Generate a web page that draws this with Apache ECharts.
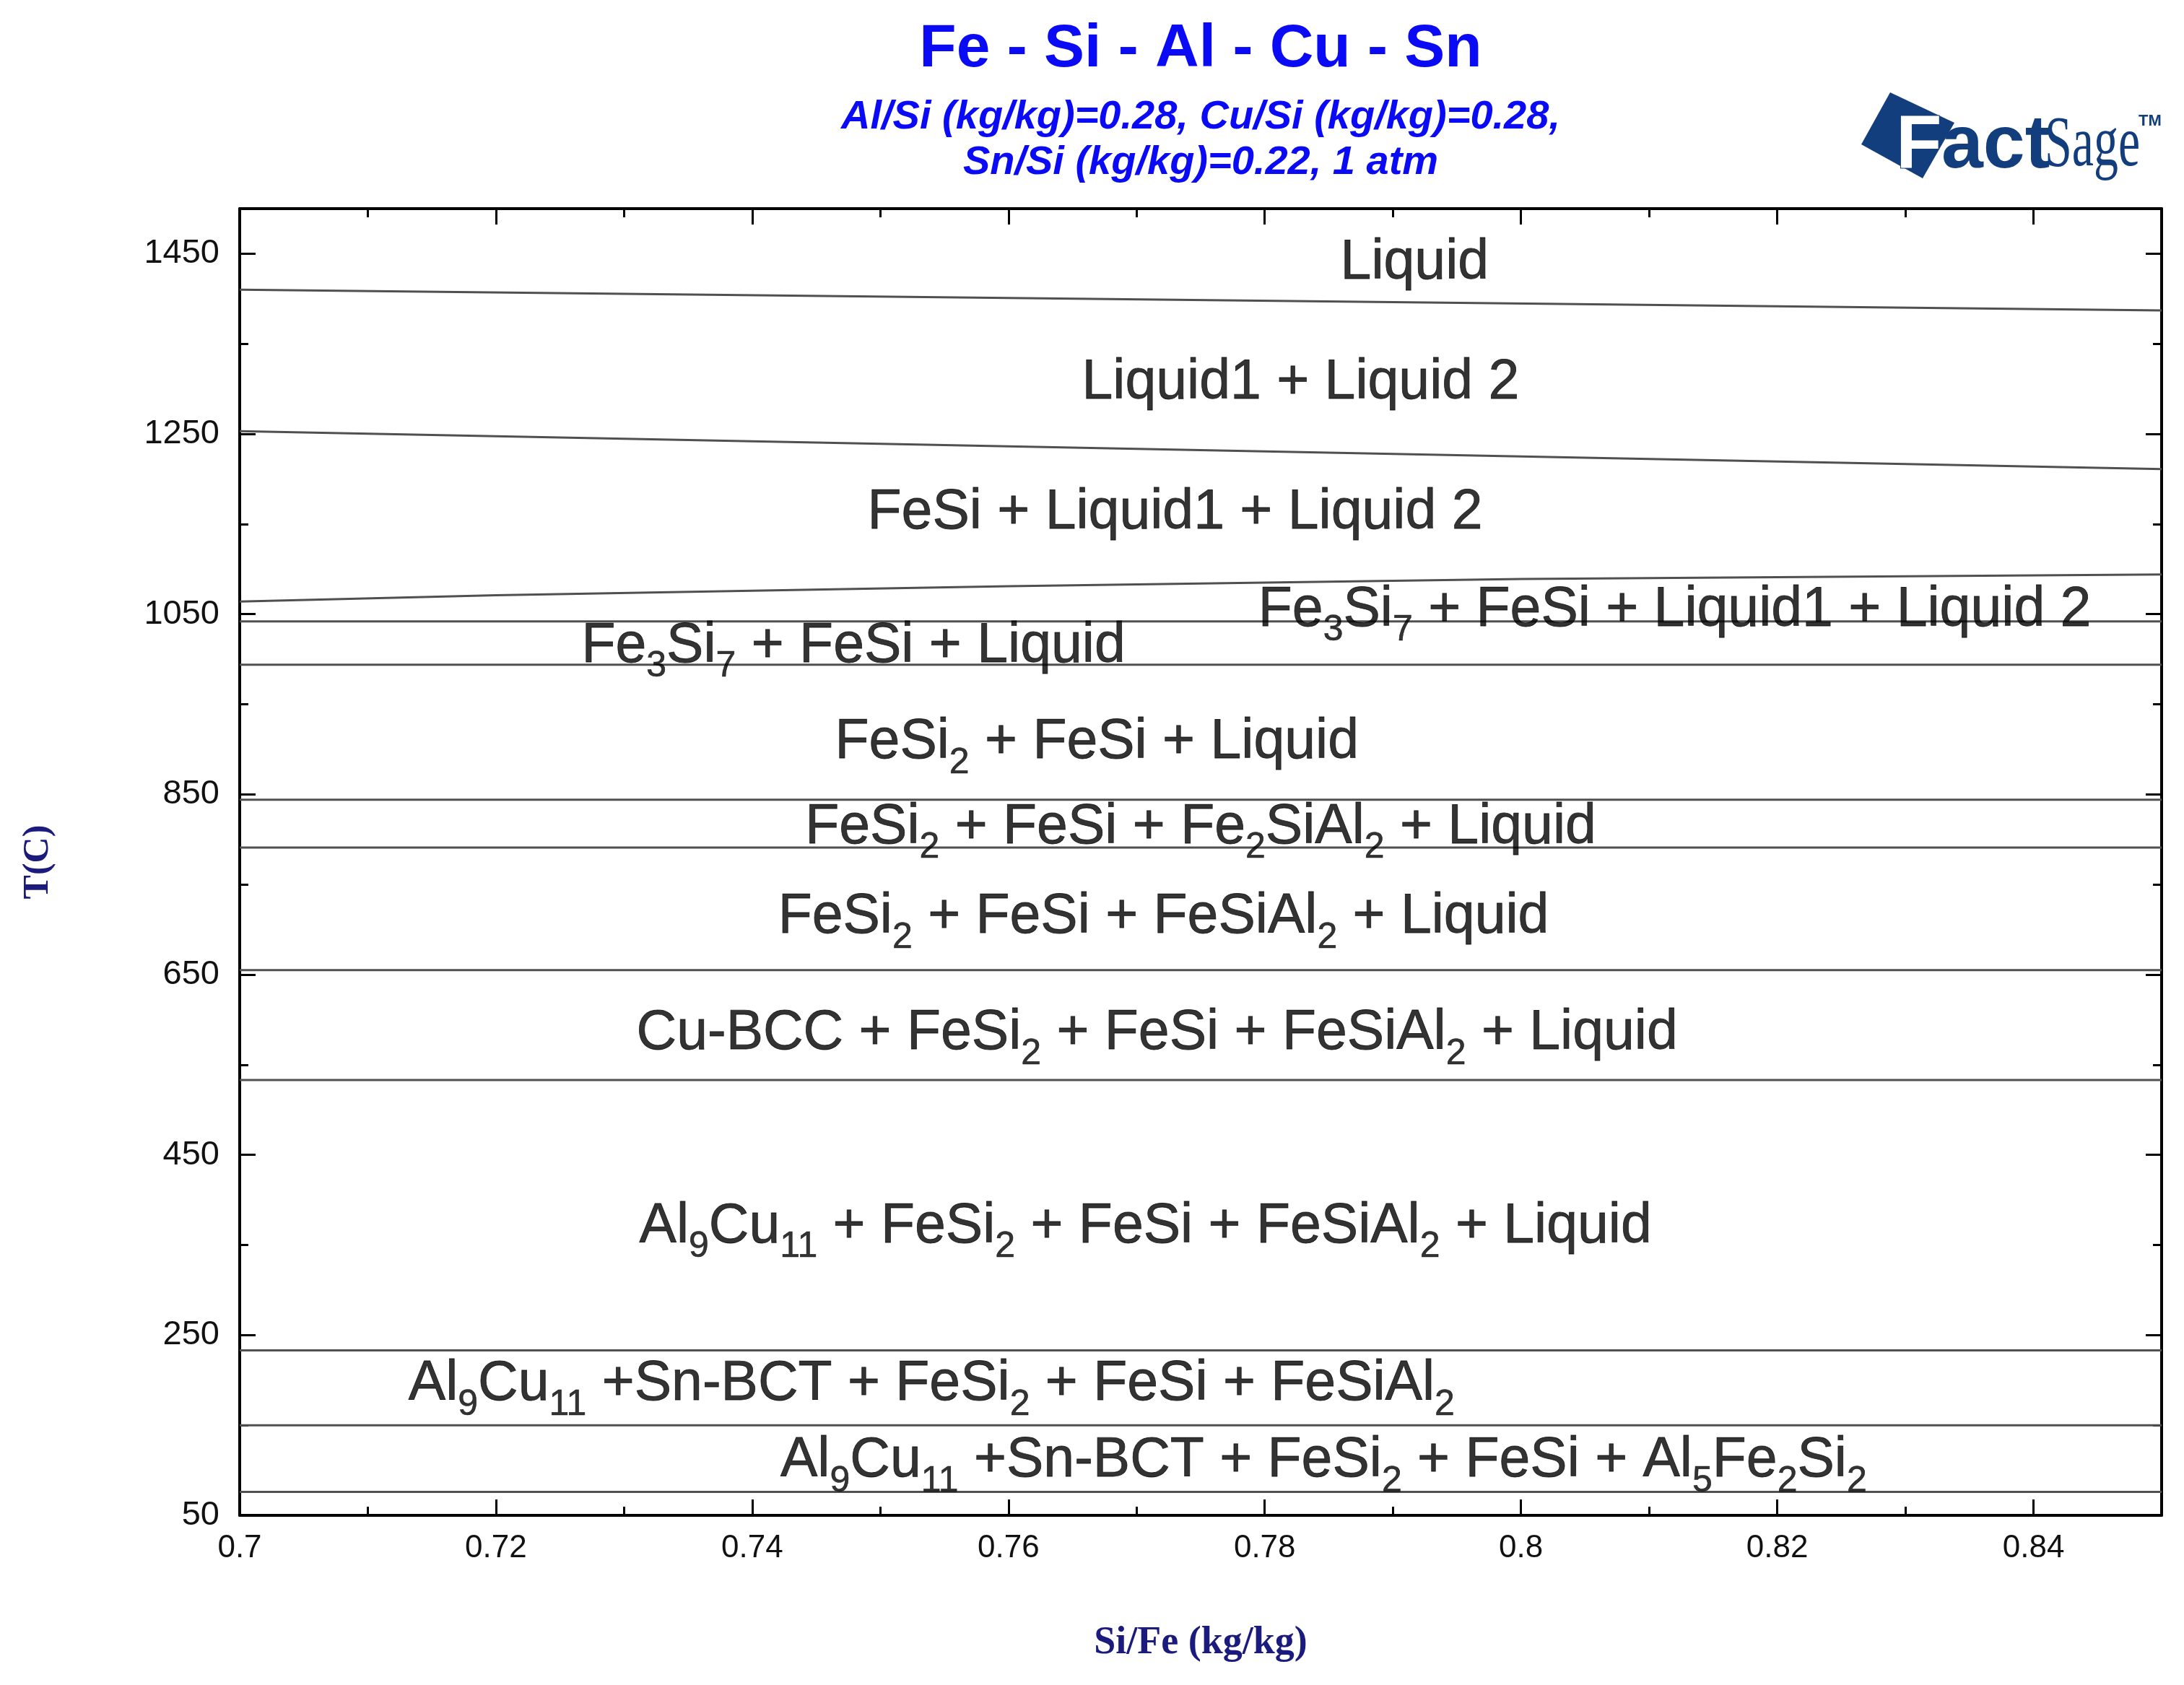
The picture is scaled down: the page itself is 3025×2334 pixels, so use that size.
<!DOCTYPE html>
<html>
<head>
<meta charset="utf-8">
<style>
  html, body { margin: 0; padding: 0; background: #fff; }
  #chart { width: 3025px; height: 2334px; }
</style>
</head>
<body>
<div id="chart"></div>
<script src="https://cdn.jsdelivr.net/npm/echarts@6.0.0/dist/echarts.min.js"></script>
<script>
// axis ranges (Si/Fe kg/kg, T in C)
var xRange = [0.7, 0.85];
var tRange = [50, 1500];

// sloped phase boundaries
var slopeX = [0.70, 0.85];
var liquidus = [1410, 1387];
var miscGap = [1253, 1211];
var fesiX = [0.70, 0.72, 0.74, 0.76, 0.78, 0.80, 0.82, 0.84, 0.85];
var fesiT = [1064, 1071, 1076, 1081, 1085, 1089, 1091, 1093, 1094];

// horizontal invariant lines
var isotherms = [1042, 994, 844, 791, 655, 533, 233, 150, 76];

// region labels, "_n" marks a subscript
var regionNames = [
  'Liquid',
  'Liquid1 + Liquid 2',
  'FeSi + Liquid1 + Liquid 2',
  'Fe_3Si_7 + FeSi + Liquid1 + Liquid 2',
  'Fe_3Si_7 + FeSi + Liquid',
  'FeSi_2 + FeSi + Liquid',
  'FeSi_2 + FeSi + Fe_2SiAl_2 + Liquid',
  'FeSi_2 + FeSi + FeSiAl_2 + Liquid',
  'Cu-BCC + FeSi_2 + FeSi + FeSiAl_2 + Liquid',
  'Al_9Cu_11 + FeSi_2 + FeSi + FeSiAl_2 + Liquid',
  'Al_9Cu_11 +Sn-BCT + FeSi_2 + FeSi + FeSiAl_2',
  'Al_9Cu_11 +Sn-BCT + FeSi_2 + FeSi + Al_5Fe_2Si_2'
];
var regionX = [0.7917, 0.7828, 0.7730, 0.8120, 0.7479, 0.7669, 0.7750, 0.7721, 0.7716, 0.7707, 0.7540, 0.7846];
var regionT = [1444, 1311, 1167, 1059, 1019, 912, 818, 718, 589, 375, 200, 115];

var lineColor = '#505050';
var logoBlue = '#123e7e';
var titleBlue = '#0a0af5';
var navy = '#1b1b7d';

// turn "Fe_3Si_7" into rich text tokens
function toRich(s) {
  var parts = s.split(/_(\d+)/);
  var out = '';
  for (var i = 0; i < parts.length; i++) {
    if (parts[i] === '') continue;
    out += (i % 2 ? '{s|' : '{t|') + parts[i] + '}';
  }
  return out;
}

var series = [];
function addLine(xs, ts) {
  series.push({
    type: 'line',
    data: xs.map(function (x, i) { return [x, ts[i]]; }),
    symbol: 'none',
    lineStyle: { color: lineColor, width: 3 },
    silent: true,
    animation: false,
    z: 3
  });
}
addLine(slopeX, liquidus);
addLine(slopeX, miscGap);
addLine(fesiX, fesiT);
isotherms.forEach(function (t) { addLine(xRange, [t, t]); });

series.push({
  type: 'scatter',
  symbolSize: 1,
  itemStyle: { color: 'rgba(0,0,0,0)' },
  silent: true,
  animation: false,
  z: 5,
  label: {
    show: true,
    position: 'inside',
    offset: [0, 6],
    rich: {
      t: { fontFamily: 'Liberation Sans', fontSize: 77, color: '#000', textBorderColor: '#000', textBorderWidth: 0.8 },
      s: { fontFamily: 'Liberation Sans', fontSize: 50, color: '#000', textBorderColor: '#000', textBorderWidth: 0.6, padding: [56, 0, 0, 0] }
    }
  },
  data: regionNames.map(function (n, i) {
    return { value: [regionX[i], regionT[i]], label: { formatter: toRich(n) } };
  })
});

function xAxisDef(pos, step, len, major) {
  return {
    type: 'value', position: pos, min: xRange[0], max: xRange[1], interval: step,
    axisLine: { show: major, onZero: false, lineStyle: { color: '#000', width: 4 } },
    axisTick: { show: true, inside: true, length: len, lineStyle: { color: '#000', width: 3 } },
    axisLabel: { show: false },
    splitLine: { show: false }
  };
}
function yAxisDef(pos, step, len, major) {
  return {
    type: 'value', position: pos, min: tRange[0], max: tRange[1], interval: step,
    axisLine: { show: major, onZero: false, lineStyle: { color: '#000', width: 4 } },
    axisTick: { show: true, inside: true, length: len, lineStyle: { color: '#000', width: 3 } },
    axisLabel: { show: false },
    splitLine: { show: false }
  };
}

var xMain = xAxisDef('bottom', 0.02, 22, true);
xMain.axisLabel = {
  show: true, showMaxLabel: false, margin: 24,
  fontFamily: '"Liberation Sans Narrow", "Arial Narrow", "Liberation Sans"',
  fontSize: 44, color: '#111'
};
xMain.name = 'Si/Fe (kg/kg)';
xMain.nameLocation = 'middle';
xMain.nameGap = 150;
xMain.nameTextStyle = { fontFamily: 'Liberation Serif', fontWeight: 'bold', fontSize: 54, color: navy };

var yMain = yAxisDef('left', 200, 22, true);
yMain.axisLabel = {
  show: true, showMaxLabel: false, margin: 28,
  fontFamily: 'Liberation Sans', fontSize: 47, color: '#111',
  formatter: function (v) { return String(v); }
};
yMain.name = 'T(C)';
yMain.nameLocation = 'middle';
yMain.nameRotate = 90;
yMain.nameGap = 254;
yMain.nameTextStyle = { fontFamily: 'Liberation Serif', fontWeight: 'bold', fontSize: 50, color: navy };

var option = {
  backgroundColor: '#fff',
  animation: false,
  grid: { left: 332, right: 31, top: 289, bottom: 235, show: false, outerBoundsMode: 'none' },
  xAxis: [
    xMain,
    xAxisDef('bottom', 0.01, 12, false),
    xAxisDef('top', 0.02, 22, true),
    xAxisDef('top', 0.01, 12, false)
  ],
  yAxis: [
    yMain,
    yAxisDef('left', 100, 12, false),
    yAxisDef('right', 200, 22, true),
    yAxisDef('right', 100, 12, false)
  ],
  series: series,
  graphic: [
    { type: 'text', x: 1663, y: 69, style: { text: 'Fe - Si - Al - Cu - Sn', font: 'bold 84px "Liberation Sans"', fill: titleBlue, textAlign: 'center', textVerticalAlign: 'middle' } },
    { type: 'text', x: 1663, y: 163, style: { text: 'Al/Si (kg/kg)=0.28, Cu/Si (kg/kg)=0.28,', font: 'italic bold 56px "Liberation Sans"', fill: titleBlue, textAlign: 'center', textVerticalAlign: 'middle' } },
    { type: 'text', x: 1663, y: 226, style: { text: 'Sn/Si (kg/kg)=0.22, 1 atm', font: 'italic bold 56px "Liberation Sans"', fill: titleBlue, textAlign: 'center', textVerticalAlign: 'middle' } },
    // FactSage logo
    { type: 'polygon', shape: { points: [[2618, 128], [2578, 200], [2663, 247], [2707, 170]] }, style: { fill: logoBlue } },
    { type: 'text', x: 2626, y: 203, style: { text: 'F', font: 'bold 104px "Liberation Sans"', fill: '#fff', stroke: logoBlue, lineWidth: 2, textAlign: 'left', textVerticalAlign: 'middle' } },
    { type: 'text', x: 2689, y: 203, style: { text: 'act', font: 'bold 104px "Liberation Sans"', fill: logoBlue, textAlign: 'left', textVerticalAlign: 'middle' } },
    { type: 'text', x: 2832, y: 203, scaleX: 0.68, style: { text: 'Sage', font: '100px "Liberation Serif"', fill: logoBlue, textAlign: 'left', textVerticalAlign: 'middle' } },
    { type: 'text', x: 2962, y: 168, style: { text: 'TM', font: 'bold 22px "Liberation Sans"', fill: logoBlue, textAlign: 'left', textVerticalAlign: 'middle' } }
  ]
};

var chart = echarts.init(document.getElementById('chart'), null, { renderer: 'canvas' });
chart.setOption(option);
window.addEventListener('resize', chart.resize);
</script>
</body>
</html>
